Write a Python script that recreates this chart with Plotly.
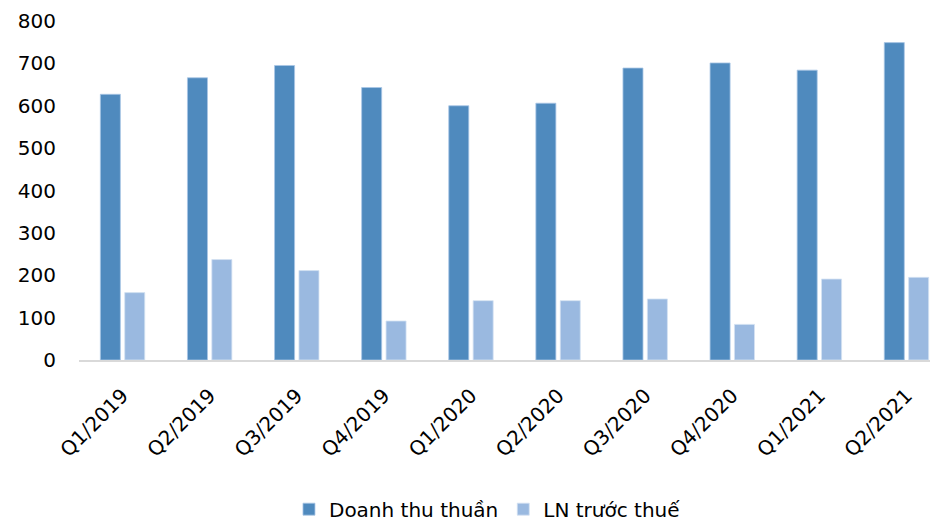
import plotly.graph_objects as go

categories = ["Q1/2019", "Q2/2019", "Q3/2019", "Q4/2019", "Q1/2020",
              "Q2/2020", "Q3/2020", "Q4/2020", "Q1/2021", "Q2/2021"]
doanh_thu = [627, 666, 695, 643, 600, 606, 689, 701, 684, 749]
ln_truoc_thue = [159, 237, 211, 92, 140, 140, 144, 84, 191, 195]
series_names = ["Doanh thu thuần", "LN trước thuế"]
y_ticks = [0, 100, 200, 300, 400, 500, 600, 700, 800]

FONT = "DejaVu Sans, Verdana, sans-serif"

fig = go.Figure()
fig.add_trace(go.Bar(
    x=categories, y=doanh_thu, name=series_names[0],
    marker=dict(color="#4F8ABE", line=dict(color="#A9C6E6", width=0.8)),
    width=0.23, offset=-0.255,
))
fig.add_trace(go.Bar(
    x=categories, y=ln_truoc_thue, name=series_names[1],
    marker=dict(color="#9AB9E0", line=dict(color="#D4E2F3", width=0.8)),
    width=0.23, offset=0.025,
))

fig.update_layout(
    width=930, height=522,
    margin=dict(l=79, r=0, t=21, b=162, autoexpand=False),
    paper_bgcolor="white", plot_bgcolor="white",
    font=dict(family=FONT, size=20, color="#000000"),
    barmode="group",
    showlegend=True,
    legend=dict(orientation="h", x=0.48, xanchor="center", y=-0.44, yanchor="middle",
                font=dict(family=FONT, size=20, color="#000000"),
                itemwidth=30, tracegroupgap=0),
    xaxis=dict(
        type="category", range=[-0.5, 9.27], automargin=False,
        showline=True, linecolor="#D9D9D9", linewidth=2,
        showgrid=False, ticks="", tickangle=-45,
        tickfont=dict(family=FONT, size=20, color="#000000"),
        ticklabelstandoff=14,
    ),
    yaxis=dict(
        range=[0, 800], tickvals=y_ticks, automargin=False,
        showgrid=False, zeroline=False, showline=False, ticks="",
        tickfont=dict(family=FONT, size=20, color="#000000"),
        ticklabelstandoff=22,
    ),
)

fig.write_html("out.html")
